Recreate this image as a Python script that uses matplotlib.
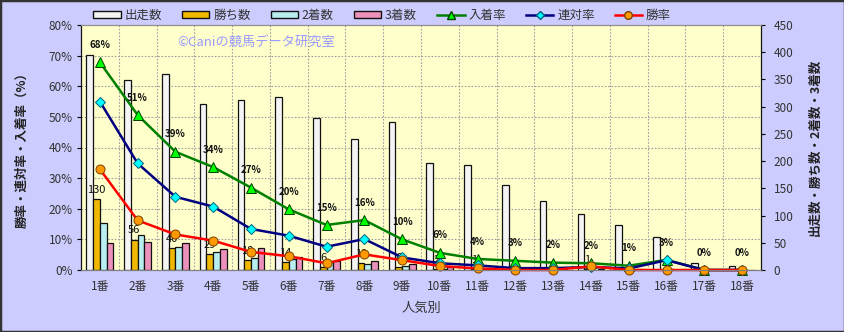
import numpy as np
import matplotlib
matplotlib.use('Agg')
import matplotlib.pyplot as plt
from matplotlib.patches import Patch, Rectangle
from matplotlib.lines import Line2D

plt.rcParams['font.family'] = ['Noto Sans CJK JP', 'DejaVu Sans']

# 人気別のデータ
ninki = [f'{i}番' for i in range(1, 19)]
runs = [395, 349, 360, 305, 312, 318, 279, 241, 272, 196, 193, 157, 126, 103, 82, 60, 12, 7]
wins = [130, 56, 40, 29, 18, 14, 6, 12, 6, 2, 1, 0, 0, 1, 0, 0, 0, 0]
seconds = [86, 65, 42, 33, 22, 20, 14, 11, 8, 2, 2, 1, 1, 0, 0, 2, 0, 0]
thirds = [50, 51, 50, 38, 40, 24, 16, 16, 11, 6, 4, 4, 2, 1, 1, 0, 0, 0]

# 率 (%)
top3_rate = [67.8, 50.6, 38.6, 33.6, 26.9, 19.8, 14.7, 16.3, 10.0, 5.6, 3.6, 3.0, 2.4, 2.2, 1.4, 3.3, 0.0, 0.0]
rentai_rate = [55.0, 34.8, 23.9, 20.7, 13.4, 11.2, 7.6, 10.1, 4.1, 2.2, 1.5, 0.6, 0.6, 1.0, 0.5, 3.2, 0.0, 0.0]
win_rate = [32.9, 16.2, 11.6, 9.6, 5.9, 4.5, 2.2, 5.1, 3.2, 1.3, 0.5, 0.0, 0.0, 1.2, 0.0, 0.0, 0.0, 0.0]

pct_ticks = [0, 10, 20, 30, 40, 50, 60, 70, 80]
cnt_ticks = [0, 50, 100, 150, 200, 250, 300, 350, 400, 450]

W, H = 845, 332
fig = plt.figure(figsize=(W / 100, H / 100), dpi=100)
fig.patch.set_facecolor('#ccccff')
fig.patches.append(Rectangle((0, 0), 1, 1, transform=fig.transFigure, fill=False,
                             edgecolor='#333333', linewidth=2.5))

ax1 = fig.add_axes([81 / W, 1 - 270 / H, (761 - 81) / W, 245 / H])
ax2 = ax1.twinx()
ax1.set_zorder(2)
ax2.set_zorder(1)
ax1.patch.set_visible(False)
ax2.patch.set_visible(True)
ax2.set_facecolor('#ffffcc')

x = np.arange(len(ninki))
w = 0.178

# grid (behind bars)
grid_kw = dict(color='#a0a0a0', linewidth=0.8, linestyle=(0, (1.5, 1.5)), zorder=0.5)
for t in pct_ticks[1:-1]:
    ax2.axhline(t * 450 / 80, **grid_kw)
for b in np.arange(0.5, len(ninki) - 0.5, 1):
    ax2.axvline(b, **grid_kw)

# bars on the right axis
ax2.bar(x - 1.5 * w, runs, w, color='#f4f4f4', edgecolor='#111111', linewidth=0.9, zorder=2)
ax2.bar(x - 0.5 * w, wins, w, color='#f0b800', edgecolor='#111111', linewidth=0.9, zorder=2)
ax2.bar(x + 0.5 * w, seconds, w, color='#b8eef0', edgecolor='#111111', linewidth=0.9, zorder=2)
ax2.bar(x + 1.5 * w, thirds, w, color='#ec90bc', edgecolor='#111111', linewidth=0.9, zorder=2)

for xi, v in zip(x, wins):
    if v > 0:
        ax2.annotate(str(v), (xi - 0.5 * w, v), xytext=(0, 3), textcoords='offset points',
                     ha='center', va='bottom', fontsize=8, color='#111111', zorder=3)

# lines on the left axis
ax1.plot(x, top3_rate, color='#008000', linewidth=1.8, marker='^', markersize=7.5,
         markerfacecolor='#00ff00', markeredgecolor='#004000', markeredgewidth=0.7, clip_on=False)
ax1.plot(x, rentai_rate, color='#000080', linewidth=1.8, marker='D', markersize=5,
         markerfacecolor='#00ffff', markeredgecolor='#006080', markeredgewidth=0.7, clip_on=False)
ax1.plot(x, win_rate, color='#ff0000', linewidth=1.8, marker='o', markersize=6.5,
         markerfacecolor='#ff9900', markeredgecolor='#804000', markeredgewidth=0.7, clip_on=False)

for xi, v in zip(x, top3_rate):
    ax1.annotate(f'{round(v)}%', (xi, v), xytext=(0, 12.5), textcoords='offset points',
                 ha='center', va='center', fontsize=7, fontweight='bold', color='#111111')

ax1.set_xlim(-0.5, len(ninki) - 0.5)
ax1.set_ylim(0, 80)
ax2.set_ylim(0, 450)
ax1.set_yticks(pct_ticks)
ax1.set_yticklabels([f'{t}%' for t in pct_ticks])
ax2.set_yticks(cnt_ticks)
ax1.set_xticks(x)
ax1.set_xticklabels(ninki)

ax1.tick_params(axis='x', length=0, pad=7, labelsize=8.5, labelcolor='#333333')
ax1.tick_params(axis='y', length=3, direction='out', pad=3, labelsize=8.5, labelcolor='#333333')
ax2.tick_params(axis='y', length=3, direction='out', pad=6, labelsize=8.5, labelcolor='#333333')

for ax in (ax1, ax2):
    ax.spines['top'].set_color('#909090')
    ax.spines['bottom'].set_color('#808080')
    ax.spines['left'].set_color('#111111')
    ax.spines['right'].set_color('#111111')

fig.text(421 / W, 1 - 308 / H, '人気別', ha='center', va='center', fontsize=9.5, color='#333333')
fig.text(22 / W, 1 - 147 / H, '勝率・連対率・入着率（%）', rotation=90, ha='center', va='center',
         fontsize=9, fontweight='bold', color='#222222')
fig.text(815 / W, 1 - 147 / H, '出走数・勝ち数・2着数・3着数', rotation=90, ha='center', va='center',
         fontsize=9, fontweight='bold', color='#222222')
fig.text(177 / W, 1 - 42 / H, '©Caniの競馬データ研究室', ha='left', va='center',
         fontsize=9.5, color='#9999ff')

handles = [
    Patch(facecolor='#f4f4f4', edgecolor='#111111', label='出走数'),
    Patch(facecolor='#f0b800', edgecolor='#111111', label='勝ち数'),
    Patch(facecolor='#b8eef0', edgecolor='#111111', label='2着数'),
    Patch(facecolor='#ec90bc', edgecolor='#111111', label='3着数'),
    Line2D([], [], color='#008000', linewidth=1.8, marker='^', markersize=6,
           markerfacecolor='#00ff00', markeredgecolor='#004000', label='入着率'),
    Line2D([], [], color='#000080', linewidth=1.8, marker='D', markersize=4.5,
           markerfacecolor='#00ffff', markeredgecolor='#006080', label='連対率'),
    Line2D([], [], color='#ff0000', linewidth=1.8, marker='o', markersize=5.5,
           markerfacecolor='#ff9900', markeredgecolor='#804000', label='勝率'),
]
leg = fig.legend(handles=handles, ncol=7, loc='center', bbox_to_anchor=(382 / W, 1 - 15 / H),
                 frameon=False, fontsize=9, handlelength=2.2, handleheight=0.5,
                 handletextpad=0.3, columnspacing=1.6, labelcolor='#333333')

fig.savefig('out.png', dpi=100, facecolor=fig.get_facecolor())
